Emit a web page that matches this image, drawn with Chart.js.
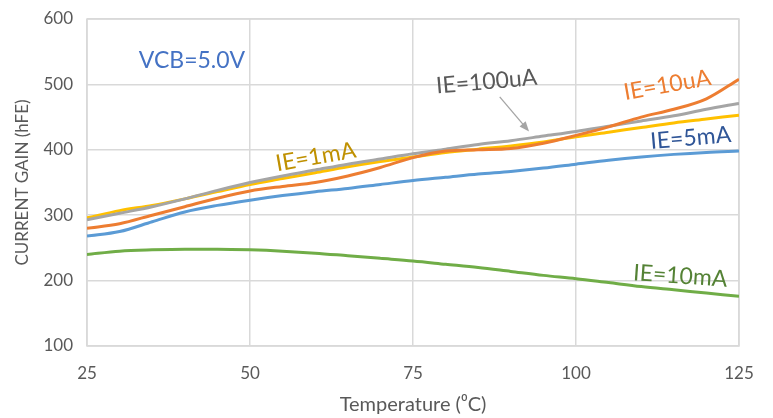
<!DOCTYPE html>
<html>
<head>
<meta charset="utf-8">
<script src="https://cdn.jsdelivr.net/npm/chart.js@4.4.1/dist/chart.umd.min.js"></script>
<style>
  html, body { margin: 0; padding: 0; background: #fff; }
  #wrap { width: 773px; height: 418px; }
</style>
</head>
<body>
<div id="wrap"><canvas id="gainChart" width="773" height="418"></canvas></div>
<script>
const temperatures = [25, 30, 35, 40, 45, 50, 55, 60, 65, 70, 75, 80, 85, 90, 95, 100, 105, 110, 115, 120, 125];

const gain10uA  = [280, 287, 300, 313, 326, 337, 344, 350, 360, 373, 388, 398, 400, 402, 410, 422, 435, 450, 462, 478, 508];
const gain100uA = [293, 303, 313, 325, 338, 350, 360, 369, 378, 386, 394, 401, 408, 414, 421, 428, 436, 444, 452, 462, 471];
const gain1mA   = [296, 307, 315, 325, 336, 347, 356, 365, 374, 382, 389, 396, 401, 406, 412, 420, 427, 434, 441, 447, 453];
const gain5mA   = [268, 275, 290, 305, 315, 323, 330, 336, 341, 347, 353, 358, 363, 367, 372, 378, 384, 389, 393, 396, 398];
const gain10mA  = [240, 245, 247, 248, 248, 247, 245, 242, 238, 234, 230, 225, 220, 214, 208, 203, 197, 191, 186, 181, 176];

const xTicks = [25, 50, 75, 100, 125];
const yTicks = [100, 200, 300, 400, 500, 600];

const fontFamily = 'Lato, "Open Sans", sans-serif';

// text labels placed in data coordinates
const curveLabels = [
    { text: 'VCB=5.0V', x: 41.1, y: 537, angle: 0,   color: '#4472C4', size: 23 },
    { text: 'IE=100uA', x: 86.3, y: 504, angle: -5,  color: '#595959', size: 23 },
    { text: 'IE=10uA',  x: 114,  y: 499, angle: -10, color: '#ED7D31', size: 23 },
    { text: 'IE=5mA',   x: 117.6, y: 418, angle: -5, color: '#2F5597', size: 23 },
    { text: 'IE=1mA',   x: 60.1, y: 389, angle: -10, color: '#BF9000', size: 23 },
    { text: 'IE=10mA',  x: 116,  y: 207, angle: 4,   color: '#548235', size: 23 }
];

function toPoints(values) {
    return temperatures.map((t, i) => ({ x: t, y: values[i] }));
}

const labelPlugin = {
    id: 'curveLabels',
    afterDatasetsDraw(chart) {
        const ctx = chart.ctx;
        const xs = chart.scales.x;
        const ys = chart.scales.y;

        // arrow from IE=100uA label to its curve
        const x0 = xs.getPixelForValue(88.3), y0 = ys.getPixelForValue(481);
        const x1 = xs.getPixelForValue(92.8), y1 = ys.getPixelForValue(428);
        const ang = Math.atan2(y1 - y0, x1 - x0);
        ctx.save();
        ctx.strokeStyle = '#A5A5A5';
        ctx.fillStyle = '#A5A5A5';
        ctx.lineWidth = 1.3;
        ctx.beginPath();
        ctx.moveTo(x0, y0);
        ctx.lineTo(x1 - 6 * Math.cos(ang), y1 - 6 * Math.sin(ang));
        ctx.stroke();
        ctx.beginPath();
        ctx.moveTo(x1, y1);
        ctx.lineTo(x1 - 10 * Math.cos(ang) + 4 * Math.sin(ang), y1 - 10 * Math.sin(ang) - 4 * Math.cos(ang));
        ctx.lineTo(x1 - 10 * Math.cos(ang) - 4 * Math.sin(ang), y1 - 10 * Math.sin(ang) + 4 * Math.cos(ang));
        ctx.closePath();
        ctx.fill();
        ctx.restore();

        curveLabels.forEach(l => {
            ctx.save();
            ctx.translate(xs.getPixelForValue(l.x), ys.getPixelForValue(l.y));
            ctx.rotate(l.angle * Math.PI / 180);
            ctx.font = l.size + 'px ' + fontFamily;
            ctx.fillStyle = l.color;
            ctx.textAlign = 'center';
            ctx.textBaseline = 'middle';
            ctx.fillText(l.text, 0, 0);
            ctx.restore();
        });
    }
};

const borderPlugin = {
    id: 'plotBorder',
    beforeDatasetsDraw(chart) {
        const a = chart.chartArea;
        const ctx = chart.ctx;
        ctx.save();
        ctx.strokeStyle = '#D9D9D9';
        ctx.lineWidth = 1.5;
        ctx.strokeRect(a.left, a.top, a.right - a.left, a.bottom - a.top);
        ctx.restore();
    }
};

function makeSet(label, values, color) {
    return {
        label: label,
        data: toPoints(values),
        borderColor: color,
        backgroundColor: color,
        borderWidth: 3,
        pointRadius: 0,
        tension: 0.4,
        cubicInterpolationMode: 'monotone',
        fill: false
    };
}

const ctx = document.getElementById('gainChart').getContext('2d');

new Chart(ctx, {
    type: 'line',
    data: {
        datasets: [
            makeSet('IE=10mA', gain10mA, '#70AD47'),
            makeSet('IE=5mA', gain5mA, '#5B9BD5'),
            makeSet('IE=10uA', gain10uA, '#ED7D31'),
            makeSet('IE=100uA', gain100uA, '#A5A5A5'),
            makeSet('IE=1mA', gain1mA, '#FFC000')
        ]
    },
    options: {
        responsive: false,
        animation: false,
        layout: { padding: { left: 12, right: 34, top: 19, bottom: 1 } },
        plugins: {
            legend: { display: false },
            tooltip: { enabled: false }
        },
        scales: {
            x: {
                type: 'linear',
                min: 25,
                max: 125,
                afterBuildTicks: axis => { axis.ticks = xTicks.map(v => ({ value: v })); },
                afterFit: axis => { axis.height = 71; axis.paddingLeft = 0; axis.paddingRight = 0; },
                grid: { color: '#D9D9D9', lineWidth: 1.5, drawTicks: false },
                border: { display: false },
                ticks: { color: '#595959', font: { family: fontFamily, size: 17 }, padding: 17, maxRotation: 0 },
                title: {
                    display: true,
                    text: 'Temperature (\u2070C)',
                    color: '#595959',
                    font: { family: fontFamily, size: 20 },
                    padding: { top: 0, bottom: 0 }
                }
            },
            y: {
                min: 100,
                max: 600,
                afterBuildTicks: axis => { axis.ticks = yTicks.map(v => ({ value: v })); },
                afterFit: axis => { axis.width = 75; axis.paddingTop = 0; axis.paddingBottom = 0; },
                grid: { color: '#D9D9D9', lineWidth: 1.5, drawTicks: false },
                border: { display: false },
                ticks: { color: '#595959', font: { family: fontFamily, size: 17 }, padding: 14 },
                title: {
                    display: true,
                    text: 'CURRENT GAIN (hFE)',
                    color: '#595959',
                    font: { family: fontFamily, size: 17 },
                    padding: { top: 0, bottom: 0 }
                }
            }
        }
    },
    plugins: [borderPlugin, labelPlugin]
});
</script>
</body>
</html>
